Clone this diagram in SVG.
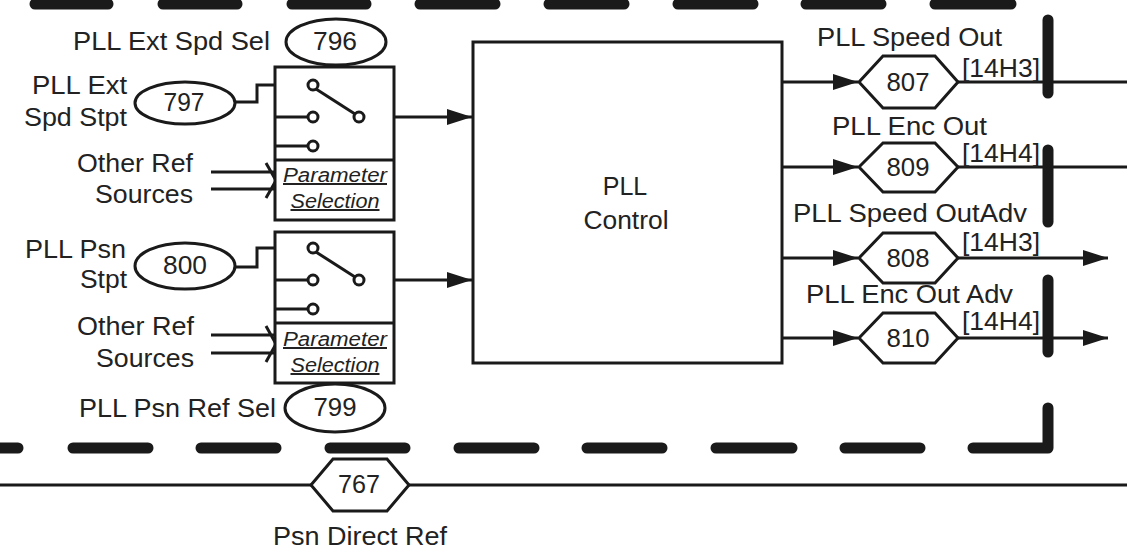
<svg xmlns="http://www.w3.org/2000/svg" width="1127" height="550" viewBox="0 0 1127 550">
<defs>
<style>
.t{font-family:"Liberation Sans",Arial,sans-serif;font-size:25px;fill:#222;}
.m{text-anchor:middle;}
.e{text-anchor:end;}
.ps{font-family:"Liberation Sans",Arial,sans-serif;font-size:20px;font-style:italic;text-decoration:underline;fill:#222;text-anchor:middle;}
.ln{stroke:#1a1a1a;stroke-width:3;fill:none;}
.sh{stroke:#1a1a1a;stroke-width:3;fill:#fff;}
.dash{stroke:#1a1a1a;stroke-width:11;stroke-linecap:round;fill:none;}
.ah{fill:#1a1a1a;}
</style>
<marker id="arr" markerWidth="25" markerHeight="16" refX="25" refY="8" orient="auto" markerUnits="userSpaceOnUse">
<path d="M0,0 L25,8 L0,16 Z" class="ah"/>
</marker>
</defs>
<rect width="1127" height="550" fill="#fff"/>

<g id="boundary">
<line class="dash" x1="35" y1="4" x2="108" y2="4"/>
<line class="dash" x1="163" y1="4" x2="237" y2="4"/>
<line class="dash" x1="292" y1="4" x2="366" y2="4"/>
<line class="dash" x1="420" y1="4" x2="495" y2="4"/>
<line class="dash" x1="549" y1="4" x2="624" y2="4"/>
<line class="dash" x1="678" y1="4" x2="753" y2="4"/>
<line class="dash" x1="806" y1="4" x2="881" y2="4"/>
<line class="dash" x1="935" y1="4" x2="1011" y2="4"/>
<path class="dash" d="M1048,408 V448 H973" stroke-linejoin="round"/>
<line class="dash" x1="-60" y1="448" x2="18" y2="448"/>
<line class="dash" x1="73" y1="448" x2="148" y2="448"/>
<line class="dash" x1="201" y1="448" x2="276" y2="448"/>
<line class="dash" x1="330" y1="448" x2="405" y2="448"/>
<line class="dash" x1="459" y1="448" x2="534" y2="448"/>
<line class="dash" x1="587" y1="448" x2="662" y2="448"/>
<line class="dash" x1="716" y1="448" x2="792" y2="448"/>
<line class="dash" x1="845" y1="448" x2="920" y2="448"/>
</g>

<g id="connectors">
<path class="ln" d="M235,102 H257 V85 H308"/>
<path class="ln" d="M235,267 H257 V248 H308"/>
<path class="ln" d="M364,117 H472" marker-end="url(#arr)"/>
<path class="ln" d="M364,280 H472" marker-end="url(#arr)"/>
<path class="ln" d="M211,172 H274 M211,189 H274 M266,163 L276,180.5 L266,198"/>
<path class="ln" d="M211,335 H274 M211,353 H274 M266,326 L276,344 L266,362"/>
<path class="ln" d="M782,82 H858" marker-end="url(#arr)"/>
<path class="ln" d="M782,167 H858" marker-end="url(#arr)"/>
<path class="ln" d="M782,258 H858" marker-end="url(#arr)"/>
<path class="ln" d="M782,338 H858" marker-end="url(#arr)"/>
<path class="ln" d="M958,82 H1127"/>
<path class="ln" d="M958,167 H1127"/>
<path class="ln" d="M958,258 H1108" marker-end="url(#arr)"/>
<path class="ln" d="M958,338 H1108" marker-end="url(#arr)"/>
<path class="ln" d="M0,485 H1127"/>
</g>

<g id="sel1">
<rect class="sh" x="275" y="67" width="119" height="153"/>
<line class="ln" x1="275" y1="160" x2="394" y2="160"/>
<line class="ln" x1="275" y1="117" x2="308" y2="117"/>
<line class="ln" x1="275" y1="146" x2="308" y2="146"/>
<line class="ln" x1="316" y1="89" x2="355" y2="114"/>
<circle class="sh" cx="313" cy="85" r="5"/>
<circle class="sh" cx="313" cy="117" r="5"/>
<circle class="sh" cx="313" cy="146" r="5"/>
<circle class="sh" cx="359" cy="117" r="5"/>
<text class="ps" x="335" y="182" textLength="104" lengthAdjust="spacingAndGlyphs">Parameter</text>
<text class="ps" x="335" y="208" textLength="89" lengthAdjust="spacingAndGlyphs">Selection</text>
</g>

<g id="sel2">
<rect class="sh" x="275" y="232" width="119" height="151"/>
<line class="ln" x1="275" y1="323" x2="394" y2="323"/>
<line class="ln" x1="275" y1="280" x2="308" y2="280"/>
<line class="ln" x1="275" y1="309" x2="308" y2="309"/>
<line class="ln" x1="316" y1="252" x2="355" y2="277"/>
<circle class="sh" cx="313" cy="248" r="5"/>
<circle class="sh" cx="313" cy="280" r="5"/>
<circle class="sh" cx="313" cy="309" r="5"/>
<circle class="sh" cx="359" cy="280" r="5"/>
<text class="ps" x="335" y="346" textLength="104" lengthAdjust="spacingAndGlyphs">Parameter</text>
<text class="ps" x="335" y="372" textLength="89" lengthAdjust="spacingAndGlyphs">Selection</text>
</g>

<g id="p796">
<text class="t" x="73" y="50" textLength="197" lengthAdjust="spacingAndGlyphs">PLL Ext Spd Sel</text>
<ellipse class="sh" cx="336" cy="42" rx="50" ry="23"/>
<text class="t m" x="335" y="50" textLength="44" lengthAdjust="spacingAndGlyphs">796</text>
</g>

<g id="p797">
<text class="t e" x="127" y="94" textLength="95" lengthAdjust="spacingAndGlyphs">PLL Ext</text>
<text class="t e" x="127" y="126" textLength="103" lengthAdjust="spacingAndGlyphs">Spd Stpt</text>
<ellipse class="sh" cx="185" cy="103" rx="50" ry="21"/>
<text class="t m" x="184" y="111" textLength="41" lengthAdjust="spacingAndGlyphs">797</text>
</g>

<g id="other1">
<text class="t e" x="193" y="172" textLength="116" lengthAdjust="spacingAndGlyphs">Other Ref</text>
<text class="t e" x="193" y="203" textLength="98" lengthAdjust="spacingAndGlyphs">Sources</text>
</g>

<g id="p800">
<text class="t e" x="126" y="258" textLength="101" lengthAdjust="spacingAndGlyphs">PLL Psn</text>
<text class="t e" x="127" y="288" textLength="47" lengthAdjust="spacingAndGlyphs">Stpt</text>
<ellipse class="sh" cx="185" cy="266" rx="50" ry="23"/>
<text class="t m" x="185" y="274" textLength="44" lengthAdjust="spacingAndGlyphs">800</text>
</g>

<g id="other2">
<text class="t e" x="194" y="335" textLength="117" lengthAdjust="spacingAndGlyphs">Other Ref</text>
<text class="t e" x="194" y="367" textLength="98" lengthAdjust="spacingAndGlyphs">Sources</text>
</g>

<g id="p799">
<text class="t" x="79" y="417" textLength="197" lengthAdjust="spacingAndGlyphs">PLL Psn Ref Sel</text>
<ellipse class="sh" cx="335" cy="408" rx="50" ry="24"/>
<text class="t m" x="335" y="416" textLength="43" lengthAdjust="spacingAndGlyphs">799</text>
</g>

<g id="pll">
<rect class="sh" x="473" y="42" width="309" height="321"/>
<text class="t m" x="625" y="195">PLL</text>
<text class="t m" x="626" y="229" textLength="85" lengthAdjust="spacingAndGlyphs">Control</text>
</g>

<g id="p807">
<text class="t" x="817" y="46" textLength="185" lengthAdjust="spacingAndGlyphs">PLL Speed Out</text>
<polygon class="sh" points="859,82 883,56 935,56 958,82 935,108 883,108"/>
<text class="t m" x="908" y="91" textLength="43" lengthAdjust="spacingAndGlyphs">807</text>
<text class="t" x="962" y="77" textLength="78" lengthAdjust="spacingAndGlyphs">[14H3]</text>
</g>

<g id="p809">
<text class="t" x="832" y="135" textLength="155" lengthAdjust="spacingAndGlyphs">PLL Enc Out</text>
<polygon class="sh" points="859,167 883,143 935,143 958,167 935,192 883,192"/>
<text class="t m" x="908" y="176" textLength="43" lengthAdjust="spacingAndGlyphs">809</text>
<text class="t" x="962" y="162" textLength="78" lengthAdjust="spacingAndGlyphs">[14H4]</text>
</g>

<g id="p808">
<text class="t" x="793" y="222" textLength="234" lengthAdjust="spacingAndGlyphs">PLL Speed OutAdv</text>
<polygon class="sh" points="859,258 883,233 935,233 958,258 935,283 883,283"/>
<text class="t m" x="908" y="267" textLength="43" lengthAdjust="spacingAndGlyphs">808</text>
<text class="t" x="962" y="251" textLength="78" lengthAdjust="spacingAndGlyphs">[14H3]</text>
</g>

<g id="p810">
<text class="t" x="806" y="303" textLength="207" lengthAdjust="spacingAndGlyphs">PLL Enc Out Adv</text>
<polygon class="sh" points="859,338 883,313 935,313 958,338 935,363 883,363"/>
<text class="t m" x="908" y="347" textLength="43" lengthAdjust="spacingAndGlyphs">810</text>
<text class="t" x="962" y="330" textLength="78" lengthAdjust="spacingAndGlyphs">[14H4]</text>
</g>

<g id="p767">
<polygon class="sh" points="311,485 333,459 387,459 409,485 387,511 333,511"/>
<text class="t m" x="359" y="493" textLength="42" lengthAdjust="spacingAndGlyphs">767</text>
<text class="t" x="273" y="545" textLength="174" lengthAdjust="spacingAndGlyphs">Psn Direct Ref</text>
</g>

<g id="bars">
<line class="dash" x1="1048" y1="20" x2="1048" y2="93"/>
<line class="dash" x1="1048" y1="150" x2="1048" y2="222"/>
<line class="dash" x1="1048" y1="280" x2="1048" y2="352"/>
</g>
</svg>
